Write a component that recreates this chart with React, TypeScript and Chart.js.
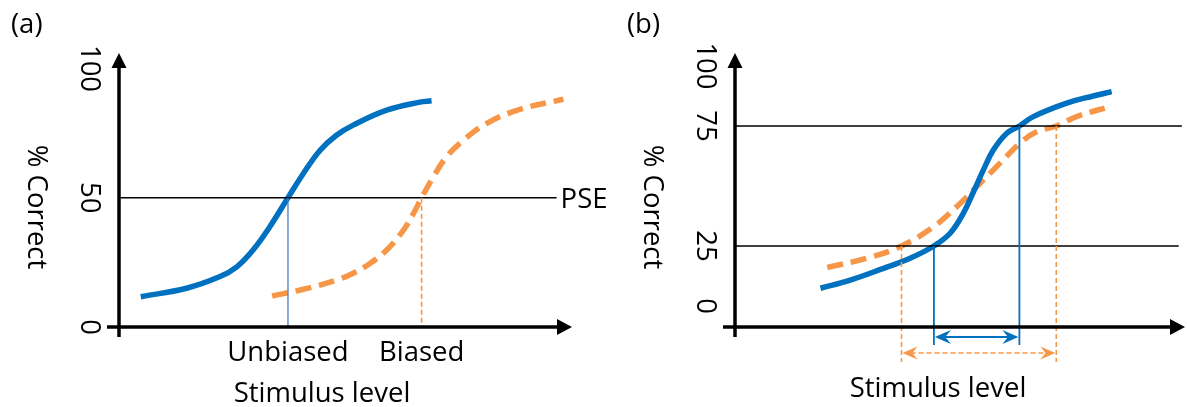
import { useEffect, useRef } from "react";
import { Chart, registerables } from "chart.js";

Chart.register(...registerables);

const FONT_FAMILY = '"Open Sans", "Noto Sans", sans-serif';
const FONT_SIZE = 27.5;
const BLUE = "#0070c0";
const PALE_BLUE = "#4a7bc8";
const ORANGE = "#f79646";

// ---------- Panel (a): shift of the point of subjective equality ----------
const unbiasedX = [4.8, 14.9, 22.3, 26.0, 29.6, 33.3, 37.3, 40.7, 44.4, 48.0, 51.7, 59.1, 66.4, 69.0];
const unbiasedY = [11.7, 15.0, 19.5, 23.3, 29.8, 38.8, 50, 59.4, 68.4, 74.2, 78.1, 83.9, 87.0, 87.5];
const biasedX = [33.8, 40.7, 48.1, 51.7, 55.4, 59.1, 62.8, 65.0, 66.8, 69.4, 72.3, 76.0, 81.2, 88.5, 98.1];
const biasedY = [12.0, 14.6, 18.2, 20.8, 24.6, 29.8, 37.5, 43.9, 50, 58.1, 65.8, 72.2, 78.8, 84.2, 88.1];
const pseLevel = 50;
const pseLineX = [0, 96.6];
const pseStimulus = [37.3, 66.8];
const pseStimulusLabels = ["Unbiased", "Biased"];
const yTicksA = [0, 50, 100];

// ---------- Panel (b): slope of the psychometric function ----------
const steepX = [19.0, 25.6, 33.0, 38.9, 44.2, 47.8, 50.7, 53.0, 55.2, 57.4, 60.4, 63.2, 66.3, 73.7, 79.6, 83.7];
const steepY = [7.4, 10.8, 15.7, 19.9, 25, 30.3, 38.5, 47.6, 56.7, 65, 72, 75, 78.9, 84.5, 87.5, 89.3];
const shallowX = [20.5, 29.3, 37.0, 44.1, 49.3, 53.7, 58.9, 63.3, 67.0, 71.4, 75.9, 83.7];
const shallowY = [16.1, 19.9, 25, 33.0, 41.4, 49.7, 59.5, 67.8, 72.6, 75, 78.9, 83.3];
const thresholdLevels = [25, 75];
const levelLineEnds = [98.6, 99.3];
const steepThresholds = [44.2, 63.2];
const shallowThresholds = [37.0, 71.4];
const yTicksB = [0, 25, 75, 100];

const zip = (xs: number[], ys: number[]) => xs.map((x, i) => ({ x, y: ys[i] }));

const font = () => `${FONT_SIZE}px ${FONT_FAMILY}`;

function rotatedText(ctx: CanvasRenderingContext2D, text: string, x: number, y: number) {
  ctx.save();
  ctx.translate(x, y);
  ctx.rotate(Math.PI / 2);
  ctx.textAlign = "center";
  ctx.textBaseline = "middle";
  ctx.fillText(text, 0, 0);
  ctx.restore();
}

function stealthHead(ctx: CanvasRenderingContext2D, tipX: number, tipY: number, dir: number, len: number, half: number) {
  ctx.beginPath();
  ctx.moveTo(tipX, tipY);
  ctx.lineTo(tipX - dir * len, tipY - half);
  ctx.lineTo(tipX - dir * len * 0.65, tipY);
  ctx.lineTo(tipX - dir * len, tipY + half);
  ctx.closePath();
  ctx.fill();
}

// Axes with arrow heads, rotated tick labels and titles shared by both panels
function drawFrame(chart: any, letter: string, ticks: number[]) {
  const { ctx, chartArea } = chart;
  const yScale = chart.scales.y;
  const ax = chartArea.left;
  const ay = chartArea.bottom;
  ctx.save();
  ctx.strokeStyle = "#000";
  ctx.fillStyle = "#000";
  ctx.lineWidth = 3.5;
  ctx.lineCap = "butt";
  // vertical axis
  ctx.beginPath();
  ctx.moveTo(ax, ay + 10);
  ctx.lineTo(ax, chartArea.top + 12);
  ctx.stroke();
  ctx.beginPath();
  ctx.moveTo(ax, chartArea.top);
  ctx.lineTo(ax - 7.5, chartArea.top + 15);
  ctx.lineTo(ax + 7.5, chartArea.top + 15);
  ctx.closePath();
  ctx.fill();
  // horizontal axis
  ctx.beginPath();
  ctx.moveTo(ax - 12, ay);
  ctx.lineTo(chartArea.right - 12, ay);
  ctx.stroke();
  ctx.beginPath();
  ctx.moveTo(chartArea.right, ay);
  ctx.lineTo(chartArea.right - 15, ay - 8);
  ctx.lineTo(chartArea.right - 15, ay + 8);
  ctx.closePath();
  ctx.fill();

  ctx.font = font();
  for (const v of ticks) {
    rotatedText(ctx, String(v), ax - 30, yScale.getPixelForValue(v));
  }
  rotatedText(ctx, "% Correct", ax - 83, chartArea.top + 154);
  ctx.textAlign = "left";
  ctx.textBaseline = "alphabetic";
  ctx.fillText(letter, ax - 108, 33);
  ctx.restore();
}

const baseOptions = (padding: any, yMin: number, yMax: number) => ({
  responsive: false,
  animation: false as const,
  events: [] as any[],
  layout: { padding },
  plugins: {
    legend: { display: false },
    tooltip: { enabled: false },
    title: { display: false },
  },
  scales: {
    x: { type: "linear" as const, min: 0, max: 100, display: false },
    y: { type: "linear" as const, min: yMin, max: yMax, display: false },
  },
  elements: { point: { radius: 0 }, line: { tension: 0.4 } },
});

const blackRule = (xs: number[], level: number) => ({
  data: xs.map((x) => ({ x, y: level })),
  borderColor: "#000",
  borderWidth: 1.6,
  pointRadius: 0,
  tension: 0,
});

const curve = (xs: number[], ys: number[], color: string, dashed: boolean) => ({
  data: zip(xs, ys),
  borderColor: color,
  borderWidth: 5.5,
  borderDash: dashed ? [16, 8] : [],
  pointRadius: 0,
  tension: 0.4,
});

export default function App() {
  const refA = useRef<HTMLCanvasElement>(null);
  const refB = useRef<HTMLCanvasElement>(null);

  useEffect(() => {
    const decorA = {
      id: "decorA",
      afterDraw(chart: any) {
        const { ctx, chartArea } = chart;
        const xs = chart.scales.x;
        const ys = chart.scales.y;
        const ay = chartArea.bottom;
        ctx.save();
        // drop lines from the PSE to the stimulus axis
        const top = ys.getPixelForValue(pseLevel);
        ctx.strokeStyle = PALE_BLUE;
        ctx.lineWidth = 1.3;
        ctx.beginPath();
        ctx.moveTo(xs.getPixelForValue(pseStimulus[0]), top);
        ctx.lineTo(xs.getPixelForValue(pseStimulus[0]), ay);
        ctx.stroke();
        ctx.strokeStyle = ORANGE;
        ctx.lineWidth = 1.6;
        ctx.setLineDash([5, 3]);
        ctx.beginPath();
        ctx.moveTo(xs.getPixelForValue(pseStimulus[1]), top);
        ctx.lineTo(xs.getPixelForValue(pseStimulus[1]), ay);
        ctx.stroke();
        ctx.setLineDash([]);
        ctx.restore();

        drawFrame(chart, "(a)", yTicksA);

        ctx.save();
        ctx.fillStyle = "#000";
        ctx.font = font();
        ctx.textBaseline = "middle";
        ctx.textAlign = "left";
        ctx.fillText("PSE", xs.getPixelForValue(pseLineX[1]) + 4, top + 2);
        ctx.textBaseline = "alphabetic";
        ctx.textAlign = "center";
        pseStimulusLabels.forEach((t, i) => {
          ctx.fillText(t, xs.getPixelForValue(pseStimulus[i]), ay + 34);
        });
        ctx.fillText("Stimulus level", chartArea.left + 203, ay + 75);
        ctx.restore();
      },
    };

    const decorB = {
      id: "decorB",
      afterDraw(chart: any) {
        const { ctx, chartArea } = chart;
        const xs = chart.scales.x;
        const ys = chart.scales.y;
        const ay = chartArea.bottom;
        ctx.save();
        // threshold drop lines for the steep curve
        ctx.strokeStyle = BLUE;
        ctx.lineWidth = 1.8;
        steepThresholds.forEach((t, i) => {
          const px = xs.getPixelForValue(t);
          ctx.beginPath();
          ctx.moveTo(px, ys.getPixelForValue(thresholdLevels[i]));
          ctx.lineTo(px, ay + 18);
          ctx.stroke();
        });
        // threshold drop lines for the shallow curve
        ctx.strokeStyle = ORANGE;
        ctx.lineWidth = 1.6;
        ctx.setLineDash([5, 3]);
        shallowThresholds.forEach((t, i) => {
          const px = xs.getPixelForValue(t);
          ctx.beginPath();
          ctx.moveTo(px, ys.getPixelForValue(thresholdLevels[i]));
          ctx.lineTo(px, ay + 35);
          ctx.stroke();
        });
        ctx.setLineDash([]);

        // interval arrows
        const b1 = xs.getPixelForValue(steepThresholds[0]) + 1;
        const b2 = xs.getPixelForValue(steepThresholds[1]) - 1;
        const by = ay + 10;
        ctx.strokeStyle = BLUE;
        ctx.fillStyle = BLUE;
        ctx.lineWidth = 2;
        ctx.beginPath();
        ctx.moveTo(b1 + 8, by);
        ctx.lineTo(b2 - 8, by);
        ctx.stroke();
        stealthHead(ctx, b1, by, -1, 16, 7);
        stealthHead(ctx, b2, by, 1, 16, 7);

        const o1 = xs.getPixelForValue(shallowThresholds[0]) + 1;
        const o2 = xs.getPixelForValue(shallowThresholds[1]) - 1;
        const oy = ay + 26;
        ctx.strokeStyle = ORANGE;
        ctx.fillStyle = ORANGE;
        ctx.lineWidth = 1.6;
        ctx.setLineDash([5, 3]);
        ctx.beginPath();
        ctx.moveTo(o1 + 8, oy);
        ctx.lineTo(o2 - 8, oy);
        ctx.stroke();
        ctx.setLineDash([]);
        stealthHead(ctx, o1, oy, -1, 15, 6.5);
        stealthHead(ctx, o2, oy, 1, 15, 6.5);
        ctx.restore();

        drawFrame(chart, "(b)", yTicksB);

        ctx.save();
        ctx.fillStyle = "#000";
        ctx.font = font();
        ctx.textAlign = "center";
        ctx.textBaseline = "alphabetic";
        ctx.fillText("Stimulus level", chartArea.left + 203, ay + 70);
        ctx.restore();
      },
    };

    const chartA = new Chart(refA.current as HTMLCanvasElement, {
      type: "line",
      data: {
        datasets: [
          blackRule(pseLineX, pseLevel),
          curve(unbiasedX, unbiasedY, BLUE, false),
          curve(biasedX, biasedY, ORANGE, true),
        ],
      } as any,
      options: baseOptions({ left: 119, top: 53, right: 615, bottom: 80 }, 0, 106) as any,
      plugins: [decorA],
    });

    const chartB = new Chart(refB.current as HTMLCanvasElement, {
      type: "line",
      data: {
        datasets: [
          blackRule([0, levelLineEnds[0]], thresholdLevels[0]),
          blackRule([0, levelLineEnds[1]], thresholdLevels[1]),
          curve(steepX, steepY, BLUE, false),
          curve(shallowX, shallowY, ORANGE, true),
        ],
      } as any,
      options: baseOptions({ left: 735, top: 53, right: 2, bottom: 80 }, -8.75, 105.4) as any,
      plugins: [decorB],
    });

    return () => {
      chartA.destroy();
      chartB.destroy();
    };
  }, []);

  const canvasStyle: React.CSSProperties = {
    position: "absolute",
    left: 0,
    top: 0,
    width: 1187,
    height: 407,
  };

  return (
    <div style={{ position: "absolute", left: 0, top: 0, width: 1187, height: 407, background: "#fff" }}>
      <canvas ref={refA} width={1187} height={407} style={canvasStyle} />
      <canvas ref={refB} width={1187} height={407} style={canvasStyle} />
    </div>
  );
}
